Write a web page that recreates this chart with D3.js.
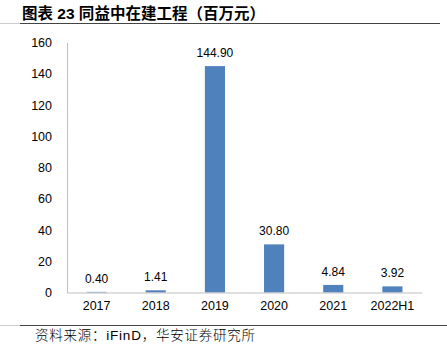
<!DOCTYPE html>
<html><head><meta charset="utf-8">
<script src="https://cdn.jsdelivr.net/npm/d3@7"></script>
<style>body{margin:0;background:#fff}svg{display:block}</style>
</head><body>
<svg id="c" width="447" height="349"></svg>
<script>
const categories = ["2017","2018","2019","2020","2021","2022H1"];
const values = [0.40, 1.41, 144.90, 30.80, 4.84, 3.92];
const valueLabels = ["0.40","1.41","144.90","30.80","4.84","3.92"];
const yTicks = [0,20,40,60,80,100,120,140,160];
const titleText = "图表 23 同益中在建工程（百万元）";
const sourceText = "资料来源：iFinD，华安证券研究所";

const svg = d3.select("#c");
const latin = "'Liberation Sans', Arial, 'Noto Sans CJK SC', sans-serif";

// title and rules
svg.append("text").attr("x",22).attr("y",19)
  .attr("font-family",latin).attr("font-weight","bold").attr("font-size",15.5)
  .attr("textLength",243).attr("lengthAdjust","spacing")
  .attr("fill","#000").text(titleText);
svg.append("line").attr("x1",0).attr("x2",20).attr("y1",23.5).attr("y2",23.5).attr("stroke","#ccc");
svg.append("line").attr("x1",20).attr("x2",440).attr("y1",23.5).attr("y2",23.5).attr("stroke","#444").attr("stroke-width",1.2);
svg.append("line").attr("x1",0).attr("x2",20).attr("y1",325.5).attr("y2",325.5).attr("stroke","#ccc");
svg.append("line").attr("x1",20).attr("x2",447).attr("y1",325.5).attr("y2",325.5).attr("stroke","#444").attr("stroke-width",1.2);
svg.append("text").attr("x",35).attr("y",340)
  .attr("font-family",latin).attr("font-weight",300).attr("font-size",13.5)
  .attr("textLength",220).attr("lengthAdjust","spacing")
  .attr("fill","#000").text(sourceText);

const x = d3.scaleBand().domain(categories).range([67,422]).paddingInner(0.66).paddingOuter(0.33);
const y = d3.scaleLinear().domain([0,160]).range([292.5,42.5]);

const yAxis = svg.append("g").attr("transform","translate(67,0)")
  .call(d3.axisLeft(y).tickValues(yTicks).tickSize(0).tickPadding(15).tickFormat(d3.format("d")));
yAxis.select(".domain").attr("stroke","#bfbfbf");
yAxis.selectAll("text").attr("font-family",latin).attr("font-size",12.5).attr("fill","#000");

svg.selectAll("rect.bar").data(values).join("rect").attr("class","bar")
  .attr("x",(d,i)=>x(categories[i])).attr("width",x.bandwidth())
  .attr("y",d=>y(d)).attr("height",d=>y(0)-y(d)).attr("fill","#4F81BD");

const xAxis = svg.append("g").attr("transform","translate(0,292.5)")
  .call(d3.axisBottom(x).tickSize(0).tickPadding(9).tickSizeOuter(0));
xAxis.select(".domain").attr("stroke","#bfbfbf");
xAxis.selectAll("text").attr("font-family",latin).attr("font-size",12.5).attr("fill","#000");

svg.selectAll("text.val").data(values).join("text").attr("class","val")
  .attr("x",(d,i)=>x(categories[i])+x.bandwidth()/2).attr("y",d=>y(d)-9)
  .attr("text-anchor","middle").attr("font-family",latin).attr("font-size",12)
  .attr("fill","#000").text((d,i)=>valueLabels[i]);
</script>
</body></html>
